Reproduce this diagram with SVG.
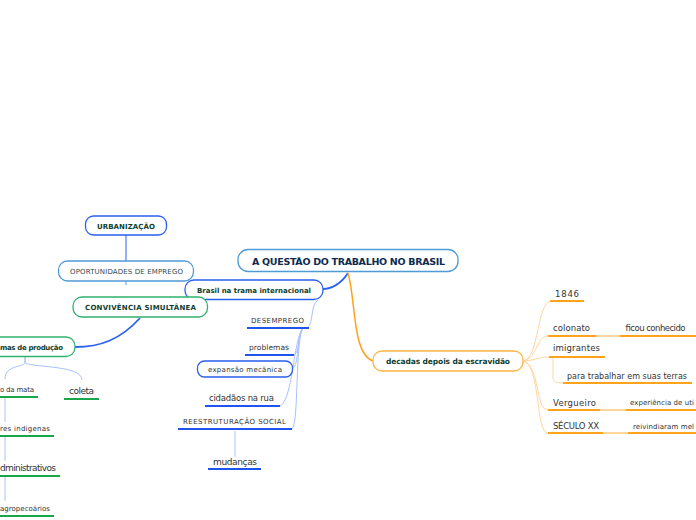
<svg xmlns="http://www.w3.org/2000/svg" width="696" height="520" viewBox="0 0 696 520">
<style>
text{font-family:"DejaVu Sans","Verdana",sans-serif;fill:#333}
.b{font-weight:bold;fill:#0f3d2e}
.box{fill:#fff;stroke-width:1.3}
.bl{stroke:#2a5ff0}
.lb{stroke:#4f9bd8}
.gr{stroke:#2fb36c}
.or{stroke:#ffb444}
.ul{fill:none;stroke-width:2}
.ub{stroke:#1f55ee}
.ug{stroke:#1aa64a}
.uo{stroke:#ffa31a}
.cl{fill:none;stroke:#a9c1fb;stroke-width:1}
.co{fill:none;stroke:#ffd79e;stroke-width:1}
</style>
<rect width="696" height="520" fill="#fff"/>
<g id="connectors">
<path d="M348,273 C341,284 331,289 323,289" fill="none" stroke="#2a62f0" stroke-width="1.8"/>
<path d="M348,273 C356,300 352,354 373,361" fill="none" stroke="#ffa31f" stroke-width="1.5"/>
<path d="M318,300 C310,305 314,324 307,328" class="cl"/>
<path d="M303,328 C297,333 301,351 294,355" class="cl"/>
<path d="M303,328 C296,336 300,365 292,369" class="cl"/>
<path d="M303,328 C293,340 293,400 280,406" class="cl"/>
<path d="M303,328 C295,340 299,424 292,429" class="cl"/>
<path d="M235,431 L235,457" class="cl"/>
<path d="M126,235 L126,261" fill="none" stroke="#2a5ff0" stroke-width="1"/>
<path d="M126,281 L126,285" fill="none" stroke="#4f9bd8" stroke-width="1"/>
<path d="M140,318 C120,340 100,347 75,347" fill="none" stroke="#2a62f0" stroke-width="1.8"/>
<path d="M25,357 L25,362 C25,368 5,364 5,379" class="cl"/>
<path d="M25,357 L25,362 C25,368 82,364 82,380" class="cl"/>
<path d="M5,398 L5,422" class="cl"/>
<path d="M5,437 L5,461" class="cl"/>
<path d="M5,477 L5,501" class="cl"/>
<path d="M523,361 C540,358 536,301 552,301" class="co"/>
<path d="M523,361 C538,358 536,336 548,336" class="co"/>
<path d="M523,361 C538,360 538,357 549,357" class="co"/>
<path d="M523,361 C540,364 535,410 548,410" class="co"/>
<path d="M523,361 C541,365 535,433 548,433" class="co"/>
<path d="M553,357 L553,378 C553,382 556,383 563,383" class="co"/>
<path d="M596,336 L620,336" fill="none" stroke="#ffd79e" stroke-width="2"/>
<path d="M600,410 L626,410" fill="none" stroke="#ffd79e" stroke-width="2"/>
<path d="M603,433 L628,433" fill="none" stroke="#ffd79e" stroke-width="2"/>
</g>
<g id="n-main"><rect class="box lb" x="238" y="249.5" width="220" height="22" rx="10"/><text class="b" x="252" y="264.5" font-size="9.5" textLength="193" style="fill:#0d2b4e">A QUESTÃO DO TRABALHO NO BRASIL</text></g>
<g id="n-brasil"><rect class="box bl" x="185" y="280" width="138" height="19.5" rx="9"/><text class="b" x="197" y="292.5" font-size="7" textLength="114">Brasil na trama internacional</text></g>
<g id="n-desemprego"><text x="251" y="323" font-size="7" textLength="53">DESEMPREGO</text><path class="ul ub" d="M247,328 H309"/></g>
<g id="n-problemas"><text x="249" y="350" font-size="7.5" textLength="40">problemas</text><path class="ul ub" d="M245,355 H294"/></g>
<g id="n-expansao"><rect class="box bl" x="197.5" y="361" width="95" height="16" rx="7"/><text x="208" y="371.5" font-size="7" textLength="74">expansão mecânica</text></g>
<g id="n-cidadaos"><text x="209" y="401" font-size="8.5" textLength="65">cidadãos na rua</text><path class="ul ub" d="M205,406 H280"/></g>
<g id="n-reestruturacao"><text x="183" y="424" font-size="7" textLength="103">REESTRUTURAÇÃO SOCIAL</text><path class="ul ub" d="M178,429 H292"/></g>
<g id="n-mudancas"><text x="213" y="465" font-size="9" textLength="44">mudanças</text><path class="ul ub" d="M208,469 H261"/></g>
<g id="n-urbanizacao"><rect class="box bl" x="85.5" y="216" width="81" height="19" rx="8"/><text class="b" x="97" y="228.5" font-size="7" textLength="58">URBANIZAÇÃO</text></g>
<g id="n-oportunidades"><rect class="box lb" x="58.5" y="261" width="135" height="20" rx="9"/><text x="70" y="274" font-size="7" textLength="113" style="fill:#2f4a55">OPORTUNIDADES DE EMPREGO</text></g>
<g id="n-convivencia"><rect class="box gr" x="73" y="297" width="134.5" height="20" rx="9"/><text class="b" x="85" y="310" font-size="7" textLength="111">CONVIVÊNCIA SIMULTÂNEA</text></g>
<g id="n-formas"><rect class="box gr" x="-60" y="337" width="135" height="19.5" rx="9"/><text class="b" x="0" y="350" font-size="7" textLength="63">mas de produção</text></g>
<g id="n-mata"><text x="0" y="392" font-size="7" textLength="34">o da mata</text><path class="ul ug" d="M-2,397 H38"/></g>
<g id="n-coleta"><text x="69" y="394" font-size="9" textLength="25">coleta</text><path class="ul ug" d="M64,399 H99"/></g>
<g id="n-indigenas"><text x="0" y="431" font-size="7" textLength="50">res indigenas</text><path class="ul ug" d="M-2,436 H54"/></g>
<g id="n-administrativos"><text x="0" y="471" font-size="9" textLength="56">dministrativos</text><path class="ul ug" d="M-2,476 H60"/></g>
<g id="n-agropecoarios"><text x="0" y="511" font-size="7" textLength="50">agropecoários</text><path class="ul ug" d="M-2,516 H54"/></g>
<g id="n-decadas"><rect class="box or" x="373" y="351" width="150" height="20" rx="9"/><text class="b" x="386" y="364" font-size="7.5" textLength="124">decadas depois da escravidão</text></g>
<g id="n-1846"><text x="555" y="297" font-size="8.5" textLength="24">1846</text><path class="ul uo" d="M550,301 H584"/></g>
<g id="n-colonato"><text x="553" y="331" font-size="8.5" textLength="37">colonato</text><path class="ul uo" d="M548,336 H596"/></g>
<g id="n-ficou"><text x="625" y="331" font-size="8.5" textLength="60">ficou conhecido</text><path class="ul uo" d="M620,336 H698"/></g>
<g id="n-imigrantes"><text x="553" y="351" font-size="8.5" textLength="47">imigrantes</text><path class="ul uo" d="M549,357 H605"/></g>
<g id="n-para"><text x="567" y="379" font-size="8" textLength="120">para trabalhar em suas terras</text><path class="ul uo" d="M563,383 H692"/></g>
<g id="n-vergueiro"><text x="553" y="406" font-size="8.5" textLength="43">Vergueiro</text><path class="ul uo" d="M548,410 H600"/></g>
<g id="n-experiencia"><text x="630" y="405" font-size="7" textLength="64">experiência de uti</text><path class="ul uo" d="M626,410 H698"/></g>
<g id="n-seculo"><text x="553" y="429" font-size="8.5" textLength="46">SÉCULO XX</text><path class="ul uo" d="M548,433 H603"/></g>
<g id="n-reivindiaram"><text x="633" y="429" font-size="7" textLength="61">reivindiaram mel</text><path class="ul uo" d="M628,433 H698"/></g>
</svg>
